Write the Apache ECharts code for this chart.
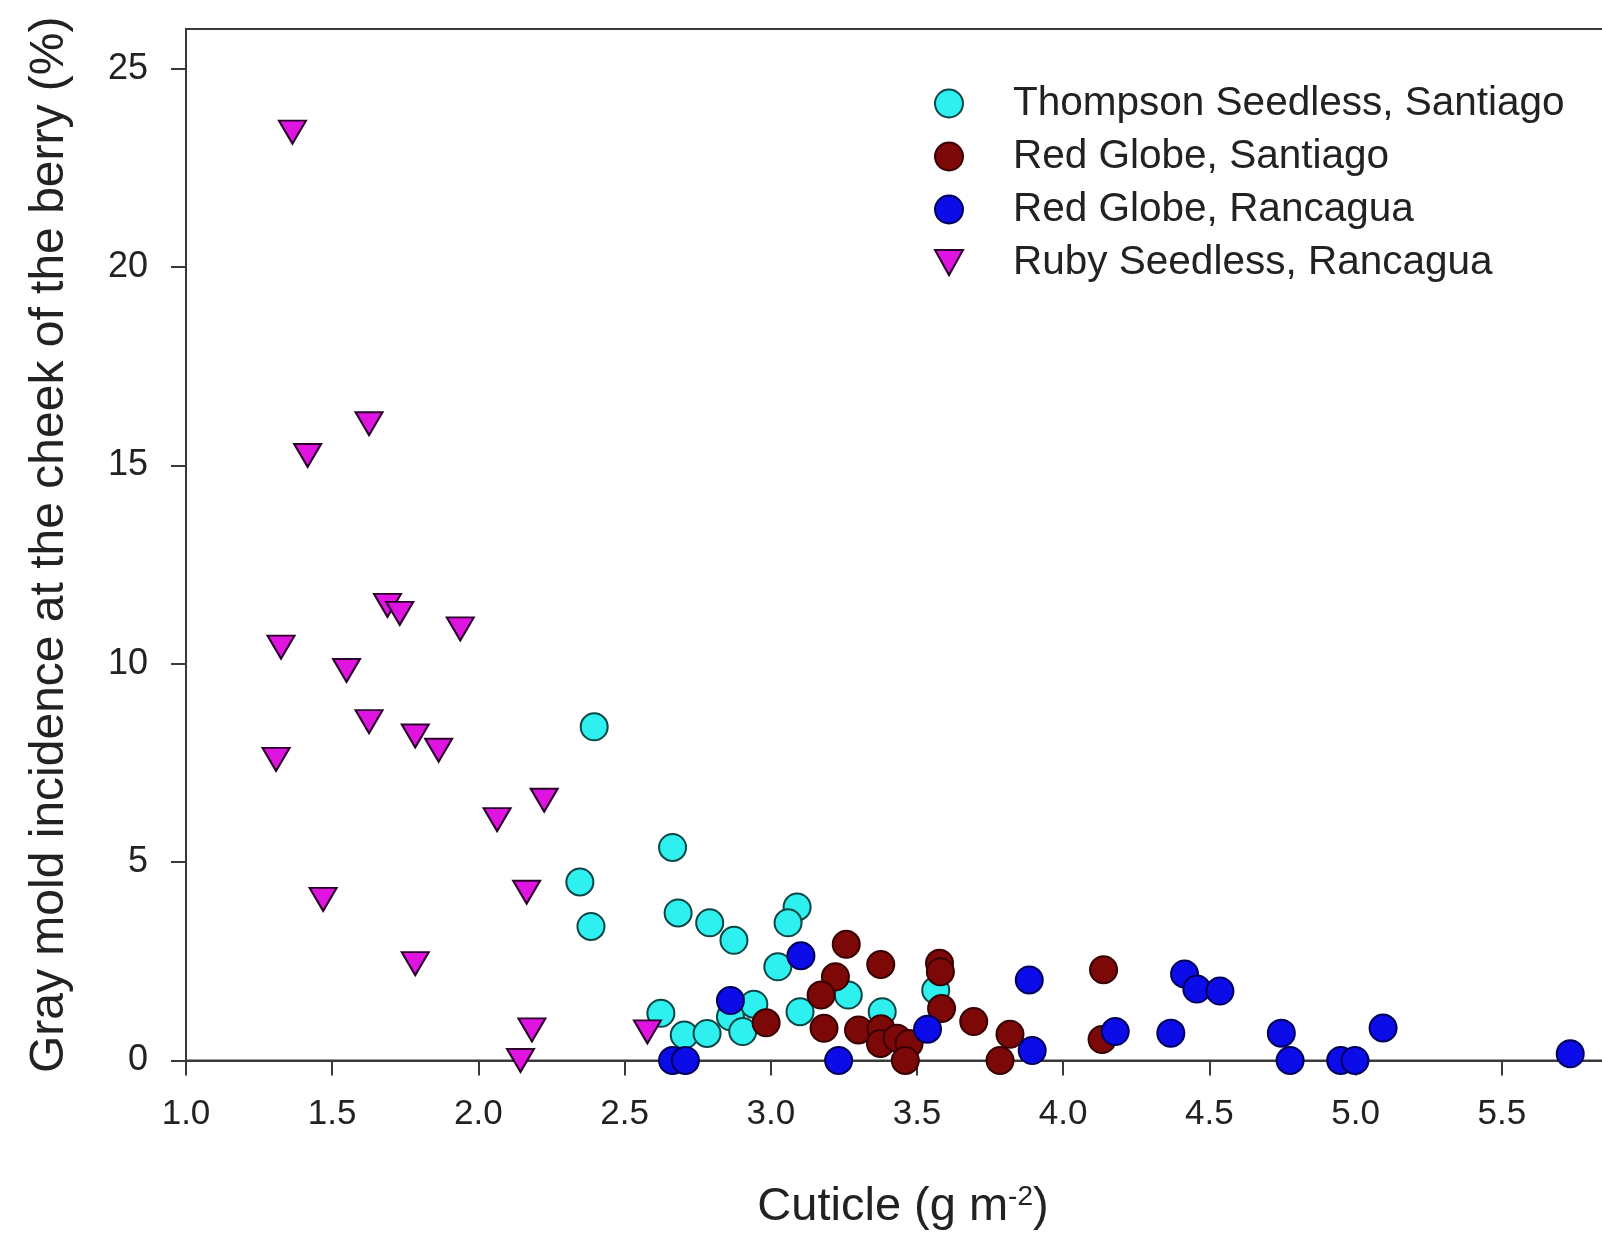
<!DOCTYPE html>
<html><head><meta charset="utf-8">
<script src="https://cdn.jsdelivr.net/npm/echarts@6/dist/echarts.min.js"></script>
<style>html,body{margin:0;padding:0;background:#fff}#c{width:1602px;height:1237px}</style>
</head><body><div id="c"></div>
<script>
const seriesNames = ['Thompson Seedless, Santiago', 'Red Globe, Santiago', 'Red Globe, Rancagua', 'Ruby Seedless, Rancagua'];

const thompsonX = [2.396, 2.664, 2.347, 2.385, 2.683, 2.791, 2.874, 3.090, 3.059, 3.024, 2.624, 2.704, 2.782, 2.942, 2.862, 2.904, 3.100, 3.265, 3.381, 3.564];
const thompsonY = [8.41, 5.37, 4.50, 3.38, 3.72, 3.47, 3.03, 3.87, 3.47, 2.36, 1.19, 0.64, 0.68, 1.42, 1.10, 0.73, 1.23, 1.65, 1.23, 1.77];

const redSantiagoX = [3.258, 3.376, 3.221, 3.172, 3.577, 3.580, 3.584, 2.984, 3.182, 3.300, 3.377, 3.375, 3.432, 3.473, 3.460, 3.694, 3.818, 3.784, 4.138, 4.133];
const redSantiagoY = [2.93, 2.42, 2.11, 1.65, 2.45, 2.24, 1.31, 0.95, 0.81, 0.77, 0.80, 0.43, 0.56, 0.43, 0.00, 0.98, 0.66, 0.00, 2.29, 0.53];

const redRancaguaX = [3.103, 2.862, 2.664, 2.708, 3.232, 3.536, 3.884, 3.894, 4.178, 4.415, 4.457, 4.536, 4.368, 4.746, 4.776, 4.949, 4.998, 5.094, 5.734];
const redRancaguaY = [2.64, 1.51, 0.00, 0.00, 0.00, 0.79, 2.03, 0.25, 0.73, 2.18, 1.80, 1.75, 0.69, 0.69, 0.00, 0.00, 0.00, 0.82, 0.17];

const rubyX = [1.364, 1.626, 1.416, 1.325, 1.689, 1.731, 1.938, 1.549, 1.626, 1.784, 1.864, 1.308, 2.064, 2.225, 1.469, 2.165, 1.784, 2.183, 2.144, 2.578];
const rubyY = [23.40, 16.05, 15.25, 10.42, 11.47, 11.27, 10.88, 9.83, 8.54, 8.18, 7.82, 7.59, 6.07, 6.56, 4.06, 4.24, 2.44, 0.77, 0.00, 0.72];

const yTicks = [0, 5, 10, 15, 20, 25];
const xTicks = [1.0, 1.5, 2.0, 2.5, 3.0, 3.5, 4.0, 4.5, 5.0, 5.5];

function pairs(xs, ys) { return xs.map((x, i) => [x, ys[i]]); }

const FONT = '"Liberation Sans", Arial, sans-serif';
const DOWN_TRI = 'path://M0,0 L10,0 L5,9 Z';
const chart = echarts.init(document.getElementById('c'), null, {renderer: 'canvas'});

function scatter(name, xs, ys, fill, border, symbol) {
  return {
    name: name,
    type: 'scatter',
    data: pairs(xs, ys),
    symbol: symbol,
    symbolSize: symbol === DOWN_TRI ? [27, 23] : 27,
    symbolKeepAspect: false,
    itemStyle: {color: fill, borderColor: border, borderWidth: 2, opacity: 1},
    emphasis: {disabled: true},
    clip: false
  };
}

chart.setOption({
  animation: false,
  backgroundColor: '#ffffff',
  grid: {
    left: 186, right: -46, top: 29, bottom: 176.5,
    outerBoundsMode: 'none', containLabel: false,
    show: true, borderColor: '#3a3a3a', borderWidth: 2, backgroundColor: 'transparent'
  },
  legend: {
    orient: 'vertical',
    left: 929, top: 78,
    itemWidth: 28, itemHeight: 28, itemGap: 12,
    selectedMode: false,
    textStyle: {fontFamily: FONT, fontSize: 40.5, color: '#222', padding: [0, 0, 0, 45]},
    data: [
      {name: seriesNames[0]},
      {name: seriesNames[1]},
      {name: seriesNames[2]},
      {name: seriesNames[3], icon: 'path://M0,0 L10,0 L5,9 Z', itemStyle: {}}
    ]
  },
  xAxis: {
    type: 'value', min: 1, max: 6, interval: 0.5,
    axisLine: {show: true, lineStyle: {color: '#3a3a3a', width: 2}},
    axisTick: {show: true, inside: false, length: 15, lineStyle: {color: '#3a3a3a', width: 2}, customValues: xTicks},
    axisLabel: {customValues: xTicks, formatter: v => v.toFixed(1), fontFamily: FONT, fontSize: 35, color: '#222', margin: 36},
    splitLine: {show: false},
    name: 'Cuticle (g m{sup|-2})',
    nameLocation: 'middle', nameGap: 123,
    nameTextStyle: {fontFamily: FONT, fontSize: 47, color: '#222', padding: [0, 28, 0, 0],
      rich: {sup: {fontFamily: FONT, fontSize: 28, color: '#222', verticalAlign: 'top', padding: [0, 0, 16, 0]}}}
  },
  yAxis: {
    type: 'value', min: 0, max: 26, interval: 5,
    axisLine: {show: true, lineStyle: {color: '#3a3a3a', width: 2}},
    axisTick: {show: true, inside: false, length: 15, lineStyle: {color: '#3a3a3a', width: 2}, customValues: yTicks},
    axisLabel: {customValues: yTicks, fontFamily: FONT, fontSize: 36, color: '#222', margin: 38},
    splitLine: {show: false},
    name: 'Gray mold incidence at the cheek of the berry (%)',
    nameLocation: 'middle', nameGap: 112,
    nameTextStyle: {fontFamily: FONT, fontSize: 48, color: '#222'}
  },
  series: [
    scatter(seriesNames[0], thompsonX, thompsonY, '#2ef0ee', '#0d4646', 'circle'),
    scatter(seriesNames[1], redSantiagoX, redSantiagoY, '#7c0808', '#380000', 'circle'),
    scatter(seriesNames[2], redRancaguaX, redRancaguaY, '#0c0ce8', '#00005a', 'circle'),
    scatter(seriesNames[3], rubyX, rubyY, '#e014e0', '#2a002a', DOWN_TRI)
  ]
});
</script></body></html>
